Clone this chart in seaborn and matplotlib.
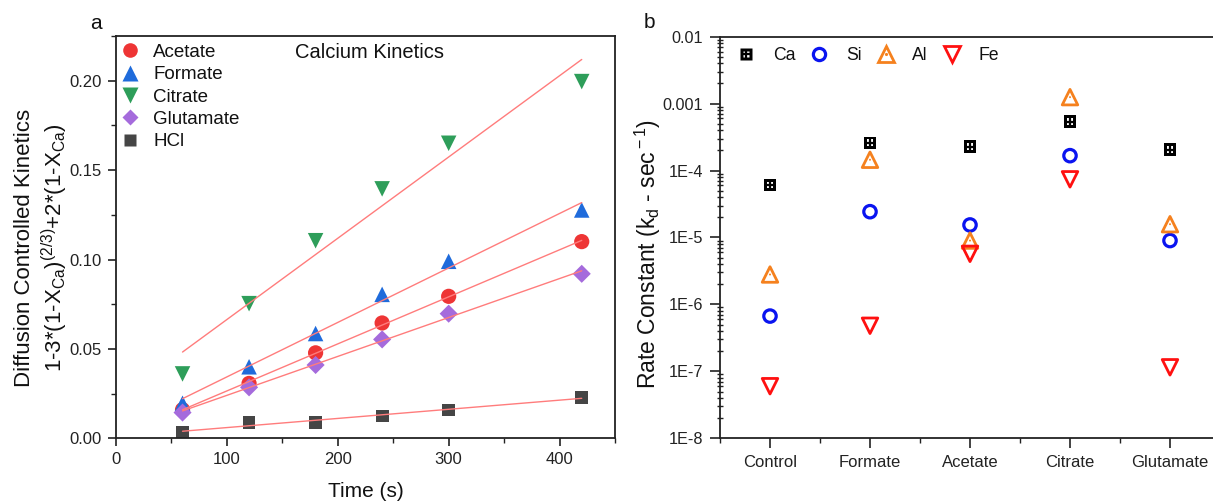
import numpy as np
import pandas as pd
import matplotlib
matplotlib.use("Agg")
import matplotlib.pyplot as plt
from matplotlib.lines import Line2D
from matplotlib.legend_handler import HandlerTuple
from matplotlib.ticker import FixedLocator, FixedFormatter, MultipleLocator, LogLocator, NullFormatter
import seaborn as sns

# ---------------- data: panel a ----------------
time_s = [60, 120, 180, 240, 300, 420]
acetate = [0.0160, 0.0307, 0.0478, 0.0645, 0.0794, 0.1100]
formate = [0.0196, 0.0400, 0.0586, 0.0805, 0.0990, 0.1277]
citrate = [0.0360, 0.0753, 0.1105, 0.1395, 0.1650, 0.1995]
glutamate = [0.0144, 0.0285, 0.0410, 0.0553, 0.0697, 0.0920]
hcl = [0.0035, 0.0090, 0.0090, 0.0125, 0.0158, 0.0230]
ligands_a = ["Acetate", "Formate", "Citrate", "Glutamate", "HCl"]
title_a = "Calcium Kinetics"

# ---------------- data: panel b ----------------
treatments = ["Control", "Formate", "Acetate", "Citrate", "Glutamate"]
k_ca = [6.1e-5, 2.6e-4, 2.28e-4, 5.4e-4, 2.05e-4]
k_si = [6.7e-7, 2.43e-5, 1.54e-5, 1.67e-4, 9.0e-6]
k_al = [2.8e-6, 1.45e-4, 9.0e-6, 1.25e-3, 1.58e-5]
k_fe = [6.0e-8, 4.8e-7, 5.7e-6, 7.4e-5, 1.15e-7]
elements = ["Ca", "Si", "Al", "Fe"]
yticks_b = [1e-2, 1e-3, 1e-4, 1e-5, 1e-6, 1e-7, 1e-8]
yticklabels_b = ["0.01", "0.001", "1E-4", "1E-5", "1E-6", "1E-7", "1E-8"]

# ---------------- style ----------------
sns.set_theme(style="ticks")
plt.rcParams["font.family"] = ["Liberation Sans", "DejaVu Sans"]
plt.rcParams["mathtext.fontset"] = "custom"
plt.rcParams["mathtext.rm"] = "Liberation Sans"
plt.rcParams["mathtext.it"] = "Liberation Sans:italic"
plt.rcParams["axes.edgecolor"] = "#222222"
plt.rcParams["xtick.color"] = "#222222"
plt.rcParams["ytick.color"] = "#222222"
plt.rcParams["text.color"] = "#111111"
plt.rcParams["axes.labelcolor"] = "#111111"

W, H = 1213, 501
fig = plt.figure(figsize=(W / 100, H / 100), dpi=100)
ax_a = fig.add_axes([116 / W, 1 - 438.3 / H, (615 - 116) / W, (438.3 - 36) / H])
ax_b = fig.add_axes([720 / W, 1 - 438.3 / H, 500 / W, (438.3 - 36.7) / H])

# ---------------- panel a ----------------
colors_a = {"Acetate": "#EE3535", "Formate": "#1F6BDB", "Citrate": "#2E9E5A",
            "Glutamate": "#A56BDC", "HCl": "#454545"}
markers_a = {"Acetate": "o", "Formate": "^", "Citrate": "v", "Glutamate": "D", "HCl": "s"}
sizes_a = {"Acetate": 120, "Formate": 125, "Citrate": 125, "Glutamate": 85, "HCl": 85}
series_a = {"Acetate": acetate, "Formate": formate, "Citrate": citrate,
            "Glutamate": glutamate, "HCl": hcl}

df_a = pd.DataFrame([(t, v, name) for name in ligands_a for t, v in zip(time_s, series_a[name])],
                    columns=["Time", "Value", "Ligand"])

for name in ligands_a:
    sub = df_a[df_a["Ligand"] == name]
    sns.scatterplot(data=sub, x="Time", y="Value", ax=ax_a, color=colors_a[name],
                    marker=markers_a[name], s=sizes_a[name], edgecolor="none",
                    legend=False, zorder=2)
for name in ligands_a:
    sub = df_a[df_a["Ligand"] == name]
    sns.regplot(data=sub, x="Time", y="Value", ax=ax_a, scatter=False, ci=None,
                color="#FF7C7C", line_kws={"lw": 1.0, "zorder": 3})

ax_a.set_xlim(0, 450)
ax_a.set_ylim(0, 0.225)
ax_a.xaxis.set_major_locator(MultipleLocator(100))
ax_a.xaxis.set_minor_locator(MultipleLocator(50))
ax_a.yaxis.set_major_locator(FixedLocator([0.0, 0.05, 0.10, 0.15, 0.20]))
ax_a.yaxis.set_major_formatter(FixedFormatter(["0.00", "0.05", "0.10", "0.15", "0.20"]))
ax_a.yaxis.set_minor_locator(MultipleLocator(0.025))
ax_a.tick_params(which="major", direction="out", length=6, width=1.2, labelsize=12, pad=4)
ax_a.tick_params(which="minor", direction="out", length=3.5, width=1.0)
ax_a.set_xlabel("Time (s)", fontsize=15, labelpad=11)
ax_a.set_ylabel("Diffusion Controlled Kinetics\n"
                r"1-3*(1-X$_{\rm Ca}$)$^{(2/3)}$+2*(1-X$_{\rm Ca}$)",
                fontsize=16, linespacing=1.2, labelpad=0)
ax_a.yaxis.label.set_y(0.473)
for sp in ax_a.spines.values():
    sp.set_linewidth(1.3)
    sp.set_visible(True)

ax_a.text(229, 0.2155, title_a, ha="center", va="center", fontsize=14.5)

handles_a = [Line2D([], [], ls="none", marker=markers_a[n], color=colors_a[n],
                    markeredgecolor="none",
                    markersize={"o": 10.5, "^": 11, "v": 11, "D": 8.5, "s": 8.5}[markers_a[n]])
             for n in ligands_a]
leg_a = ax_a.legend(handles_a, ligands_a, loc="upper left", bbox_to_anchor=(-0.002, 0.995),
                    frameon=False, fontsize=13.5, handlelength=1.0, handletextpad=0.75,
                    labelspacing=0.28, borderaxespad=0.1, borderpad=0.2)

fig.text(96 / W, 1 - 23.5 / H, "a", fontsize=15, ha="center", va="center")
fig.text(649 / W, 1 - 22.5 / H, "b", fontsize=15, ha="center", va="center")

# ---------------- panel b ----------------
df_b = pd.DataFrame({"Treatment": treatments * 4,
                     "k": k_ca + k_si + k_al + k_fe,
                     "Element": sum([[e] * len(treatments) for e in elements], [])})
ca = df_b[df_b["Element"] == "Ca"]
si = df_b[df_b["Element"] == "Si"]
al = df_b[df_b["Element"] == "Al"]
fe = df_b[df_b["Element"] == "Fe"]

ax_b.set_yscale("log")
# Ca: black square with white 2x2 pattern
sns.scatterplot(data=ca, x="Treatment", y="k", ax=ax_b, marker="s", s=80, color="black",
                edgecolor="none", legend=False, zorder=3)
sns.scatterplot(data=ca, x="Treatment", y="k", ax=ax_b, marker="s", s=24, color="white",
                edgecolor="none", legend=False, zorder=4)
sns.scatterplot(data=ca, x="Treatment", y="k", ax=ax_b, marker="+", s=32, color="black",
                linewidth=1.6, legend=False, zorder=5)
# Si: open blue circle
sns.scatterplot(data=si, x="Treatment", y="k", ax=ax_b, marker="o", s=80,
                facecolor="none", edgecolor="#0A14F0", linewidth=2.3, legend=False, zorder=3)
# Al: open orange triangle with dot
sns.scatterplot(data=al, x="Treatment", y="k", ax=ax_b, marker="^", s=125,
                facecolor="none", edgecolor="#F5811E", linewidth=2.0, legend=False, zorder=3)
sns.scatterplot(data=al, x="Treatment", y="k", ax=ax_b, marker=".", s=8,
                color="#F5811E", edgecolor="none", legend=False, zorder=3)
# Fe: open red down triangle
sns.scatterplot(data=fe, x="Treatment", y="k", ax=ax_b, marker="v", s=125,
                facecolor="none", edgecolor="#FF1010", linewidth=2.0, legend=False, zorder=3)

ax_b.set_xlim(-0.5, 4.5)
ax_b.set_ylim(1e-8, 1e-2)
ax_b.yaxis.set_major_locator(FixedLocator(yticks_b))
ax_b.yaxis.set_major_formatter(FixedFormatter(yticklabels_b))
ax_b.yaxis.set_minor_locator(LogLocator(base=10, subs=np.arange(2, 10), numticks=20))
ax_b.yaxis.set_minor_formatter(NullFormatter())
ax_b.xaxis.set_minor_locator(MultipleLocator(1, offset=0.5))
ax_b.tick_params(which="major", direction="out", length=7, width=1.2, labelsize=12, pad=5)
ax_b.tick_params(axis="y", which="major", labelsize=11.7)
ax_b.tick_params(axis="y", which="minor", direction="inout", length=4, width=1.0)
ax_b.tick_params(axis="x", which="minor", direction="out", length=3.5, width=1.0)
ax_b.set_xlabel("")
ax_b.set_ylabel(r"Rate Constant (k$_{\rm d}$ - sec$^{\rm -1}$)", fontsize=16.5, labelpad=0)
ax_b.yaxis.label.set_y(0.46)
for sp in ax_b.spines.values():
    sp.set_linewidth(1.3)
    sp.set_visible(True)

h_ca = (Line2D([], [], ls="none", marker="s", color="black", markersize=8.8, markeredgecolor="none"),
        Line2D([], [], ls="none", marker="s", color="white", markersize=4.8, markeredgecolor="none"),
        Line2D([], [], ls="none", marker="+", color="black", markersize=5.6, markeredgewidth=1.6))
h_si = Line2D([], [], ls="none", marker="o", markerfacecolor="none", markeredgecolor="#0A14F0",
              markersize=8.8, markeredgewidth=2.3)
h_al = (Line2D([], [], ls="none", marker="^", markerfacecolor="none", markeredgecolor="#F5811E",
               markersize=11, markeredgewidth=2.0),
        Line2D([], [], ls="none", marker=".", color="#F5811E", markersize=2.5))
h_fe = Line2D([], [], ls="none", marker="v", markerfacecolor="none", markeredgecolor="#FF1010",
              markersize=11, markeredgewidth=2.0)
ax_b.legend([h_ca, h_si, h_al, h_fe], elements, loc="upper left", bbox_to_anchor=(0.01, 1.005),
            ncol=4, frameon=False, fontsize=12.7, handlelength=1.0, handletextpad=1.0,
            columnspacing=0.88, borderaxespad=0.4, borderpad=0.3,
            handler_map={tuple: HandlerTuple(ndivide=1)})

fig.savefig("out.png", dpi=100)
